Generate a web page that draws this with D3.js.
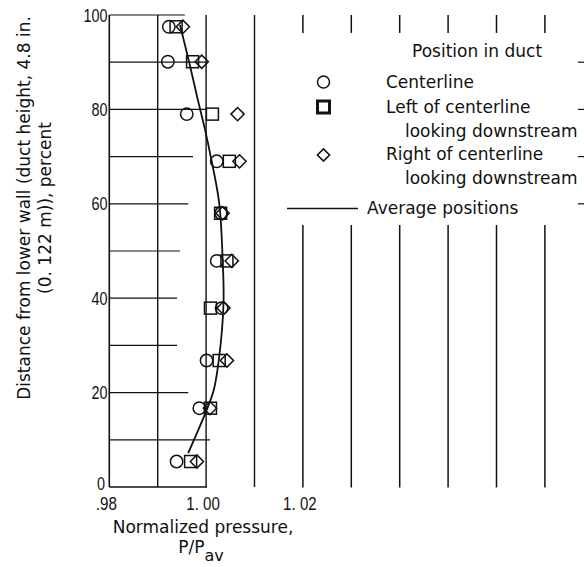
<!DOCTYPE html>
<html>
<head>
<meta charset="utf-8">
<script src="https://cdn.jsdelivr.net/npm/d3@7"></script>
<style>
  html, body { margin: 0; padding: 0; background: #fff; }
  svg { display: block; }
  .txt { font-family: "DejaVu Sans", sans-serif; font-size: 17px; fill: #111; }
  .num { font-family: "Liberation Sans", Arial, sans-serif; font-size: 18px; fill: #111; }
</style>
</head>
<body>
<svg id="chart" width="584" height="567"></svg>
<script>
// ---------------- data ----------------
const rowsY       = [97.5, 90.1, 79.0, 69.0, 58.0, 47.9, 37.9, 26.8, 16.7, 5.4];
const centerline  = [0.9923, 0.9921, 0.9960, 1.0022, 1.0031, 1.0022, 1.0032, 1.0001, 0.9986, 0.9939];
const leftOfCL    = [0.9938, 0.9972, 1.0013, 1.0048, 1.0030, 1.0043, 1.0009, 1.0027, 1.0009, 0.9968];
const rightOfCL   = [0.9952, 0.9991, 1.0065, 1.0069, 1.0034, 1.0053, 1.0036, 1.0043, 1.0008, 0.9981];

const avgY = [97.9, 90.0, 82.0, 75.6, 70.8, 60.2, 48.7, 39.0, 27.5, 20.6, 16.3, 7.2];
const avgX = [0.9946, 0.9965, 0.9983, 0.9998, 1.0008, 1.0027, 1.0034, 1.0036, 1.0027, 1.0016, 1.0001, 0.9963];

const xTickValues = [0.98, 1.00, 1.02];
const xTickLabels = [".98", "1. 00", "1. 02"];
const yTickValues = [0, 20, 40, 60, 80, 100];
const yTickLabels = ["0", "20", "40", "60", "80", "100"];

const hGridValues = [0, 10, 20, 30, 40, 50, 60, 70, 80, 90, 100];
const hGridEnds   = [1.0002, 1.0008, 0.9963, 0.9940, 0.9940, 0.9946, 0.9963, 0.9973, 1.0002, 1.0002, 0.9956];
const vGridFull   = [0.98, 0.99, 1.00, 1.01];
const vGridBroken = [1.02, 1.03, 1.04, 1.05, 1.06, 1.07];

const legendTitle = "Position in duct";
const legendItems = [
  { shape: "circle",  lines: ["Centerline"] },
  { shape: "square",  lines: ["Left of centerline", "looking downstream"] },
  { shape: "diamond", lines: ["Right of centerline", "looking downstream"] }
];
const legendLineLabel = "Average positions";

// ---------------- scales ----------------
const svg = d3.select("#chart");
const x = d3.scaleLinear().domain([0.98, 1.07]).range([109.3, 544.9]);
const y = d3.scaleLinear().domain([0, 100]).range([487, 15]);

const ink = "#111";
const g = svg.append("g");

// horizontal grid (partial, as in the scanned original)
g.selectAll("line.hg").data(hGridValues).join("line")
  .attr("x1", x(0.98)).attr("x2", (d, i) => x(hGridEnds[i]))
  .attr("y1", d => y(d)).attr("y2", d => y(d))
  .attr("stroke", ink).attr("stroke-width", d => d === 0 ? 1.6 : 1.2);

// small right-edge grid fragments
g.selectAll("line.hr").data([60, 70, 80, 90]).join("line")
  .attr("x1", 578).attr("x2", 584)
  .attr("y1", d => y(d)).attr("y2", d => y(d))
  .attr("stroke", ink).attr("stroke-width", 1.2);

// vertical grid full height
g.selectAll("line.vf").data(vGridFull).join("line")
  .attr("x1", d => x(d)).attr("x2", d => x(d))
  .attr("y1", y(100)).attr("y2", y(0))
  .attr("stroke", ink).attr("stroke-width", d => d === 0.98 ? 1.6 : 1.4);

// vertical grid broken by legend
g.selectAll("line.vt").data(vGridBroken).join("line")
  .attr("x1", d => x(d)).attr("x2", d => x(d))
  .attr("y1", y(100)).attr("y2", y(96.2))
  .attr("stroke", ink).attr("stroke-width", 1.5);
g.selectAll("line.vb").data(vGridBroken).join("line")
  .attr("x1", d => x(d)).attr("x2", d => x(d))
  .attr("y1", y(55.5)).attr("y2", y(-0.1))
  .attr("stroke", ink).attr("stroke-width", 1.5);

// tick labels (condensed digits)
g.selectAll("text.yt").data(yTickValues).join("text")
  .attr("class", "num")
  .attr("text-anchor", "end")
  .attr("font-size", d => d === 0 ? 17 : 18)
  .attr("transform", d => `translate(${d === 0 ? 105 : 107.5},${d === 0 ? y(d) + 3 : y(d) + 6.5}) scale(0.8,1)`)
  .text((d, i) => yTickLabels[i]);

g.selectAll("text.xt").data(xTickValues).join("text")
  .attr("class", "num")
  .attr("text-anchor", "middle")
  .attr("font-size", 17.5)
  .attr("transform", d => `translate(${x(d) - 3},${510}) scale(0.84,1)`)
  .text((d, i) => xTickLabels[i]);

// axis titles
const xt = g.append("text").attr("class", "txt").attr("text-anchor", "middle");
xt.append("tspan").attr("x", 203).attr("y", 533).text("Normalized pressure,");
const xt2 = g.append("text").attr("class", "txt").attr("x", 201).attr("y", 553).attr("text-anchor", "middle");
xt2.append("tspan").text("P/P");
xt2.append("tspan").attr("dy", 8).attr("font-size", 16).text("av");

g.append("text").attr("class", "txt").attr("text-anchor", "middle")
  .attr("transform", "translate(30,208) rotate(-90)")
  .text("Distance from lower wall (duct height, 4.8 in.");
g.append("text").attr("class", "txt").attr("text-anchor", "middle")
  .attr("transform", "translate(51,208) rotate(-90)")
  .text("(0. 122 m)), percent");

// average curve
const avgPts = avgY.map((v, i) => [avgX[i], v]);
g.append("path")
  .datum(avgPts)
  .attr("fill", "none").attr("stroke", ink).attr("stroke-width", 1.8)
  .attr("d", d3.line().x(d => x(d[0])).y(d => y(d[1])).curve(d3.curveCatmullRom));

// markers
function marker(sel, shape, size, sw) {
  if (shape === "circle") {
    sel.append("circle").attr("r", size).attr("fill", "none").attr("stroke", ink).attr("stroke-width", sw);
  } else if (shape === "square") {
    sel.append("rect").attr("x", -size).attr("y", -size).attr("width", 2 * size).attr("height", 2 * size)
      .attr("fill", "none").attr("stroke", ink).attr("stroke-width", sw);
  } else {
    const s = size * 1.05;
    sel.append("path").attr("d", `M${-s},0L0,${-s}L${s},0L0,${s}Z`)
      .attr("fill", "none").attr("stroke", ink).attr("stroke-width", sw);
  }
}
const series = [
  { vals: centerline, shape: "circle", size: 6.2 },
  { vals: leftOfCL, shape: "square", size: 6 },
  { vals: rightOfCL, shape: "diamond", size: 6.3 }
];
series.forEach(s => {
  s.vals.forEach((v, i) => {
    const m = g.append("g").attr("transform", `translate(${x(v)},${y(rowsY[i])})`);
    marker(m, s.shape, s.size, 1.5);
  });
});

// legend
const lg = svg.append("g");
lg.append("text").attr("class", "txt").attr("x", 412).attr("y", 57).text(legendTitle);
const legendRowY = [82, 107, 155];
const legendTextY = [[88, null], [113, 137], [160, 184]];
legendItems.forEach((it, i) => {
  const m = lg.append("g").attr("transform", `translate(323.5,${legendRowY[i]})`);
  if (it.shape === "circle") marker(m, "circle", 6, 1.5);
  else if (it.shape === "square") marker(m, "square", 6, 3);
  else marker(m, "diamond", 5.8, 1.6);
  it.lines.forEach((t, j) => {
    lg.append("text").attr("class", "txt")
      .attr("x", j === 0 ? 386 : 405)
      .attr("y", legendTextY[i][j])
      .text(t);
  });
});
lg.append("line").attr("x1", 287).attr("x2", 358).attr("y1", 208.5).attr("y2", 208.5)
  .attr("stroke", ink).attr("stroke-width", 1.5);
lg.append("text").attr("class", "txt").attr("x", 367).attr("y", 214).text(legendLineLabel);
</script>
</body>
</html>
